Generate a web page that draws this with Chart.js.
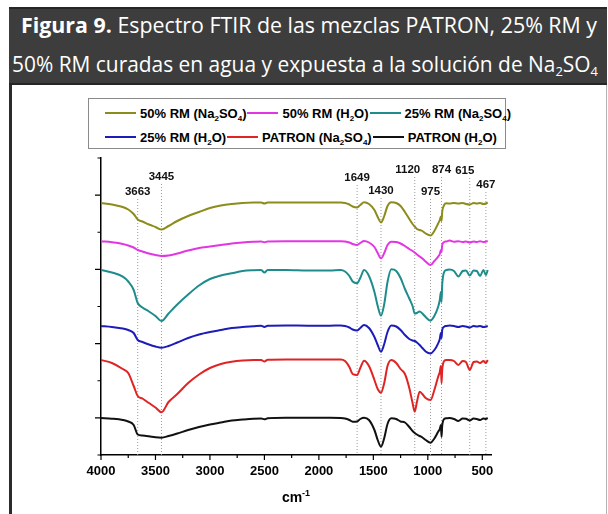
<!DOCTYPE html>
<html>
<head>
<meta charset="utf-8">
<script src="https://cdn.jsdelivr.net/npm/chart.js@4.4.1/dist/chart.umd.min.js"></script>
<style>
  body { margin: 0; width: 608px; height: 514px; overflow: hidden; position: relative; background: #fff; font-family: "Liberation Sans", Arial, sans-serif; }
  #frame { position: absolute; left: 9px; top: 7px; width: 594px; height: 520px; border-left: 3px solid #2b2b2b; border-right: 1px solid #b4b4b4; }
  #head { position: absolute; left: 9px; top: 7px; width: 598px; height: 78px; background: #3d3d3d; border-top: 2px solid #262626; border-bottom: 2px solid #262626; box-sizing: border-box; }
  .ln { position: absolute; white-space: nowrap; color: #fff; font-family: "Open Sans", sans-serif; font-size: 21px; line-height: 24px; transform-origin: 0 0; }
  .ln sub { font-size: 13px; vertical-align: -4px; line-height: 0; }
  #legend { position: absolute; left: 88px; top: 98px; width: 418px; height: 51px; border: 1px solid #8a8a8a; box-sizing: border-box; }
  .row { position: absolute; left: 16px; height: 16px; display: flex; align-items: center; white-space: nowrap; }
  .row .ln2 { display: inline-block; width: 31px; height: 2px; }
  .row .tx { font-weight: bold; font-size: 13px; padding: 0 1px 0 4px; }
  .row sub { font-size: 8px; vertical-align: -3px; line-height: 0; }
  #xtitle { position: absolute; left: 196px; width: 200px; top: 489px; text-align: center; font-weight: bold; font-size: 14px; }
  #xtitle sup { font-size: 9px; vertical-align: 6px; line-height: 0; }
  canvas { position: absolute; left: 0; top: 0; }
</style>
</head>
<body>
<div id="frame"></div>
<div id="head"></div>
<div class="ln" id="l1" style="left:21px;top:13px"><b>Figura 9.</b> Espectro FTIR de las mezclas PATRON, 25% RM y</div>
<div class="ln" id="l2" style="left:12px;top:52px">50% RM curadas en agua y expuesta a la solución de Na<sub>2</sub>SO<sub>4</sub></div>
<div id="legend"></div>
<canvas id="ftir" width="608" height="514"></canvas>
<div id="xtitle">cm<sup>-1</sup></div>
<script>
// wavenumber grid (cm-1)
const wn = [4000, 3900, 3800, 3750, 3700, 3663, 3620, 3560, 3500, 3445,
  3380, 3300, 3200, 3100, 3000, 2900, 2800, 2700, 2600, 2530,
  2500, 2470, 2300, 2100, 1900, 1800, 1760, 1720, 1690, 1649,
  1620, 1585, 1540, 1490, 1460, 1430, 1400, 1370, 1335, 1290,
  1250, 1210, 1170, 1140, 1120, 1100, 1075, 1050, 1020, 975,
  940, 905, 890, 880, 874, 868, 850, 830, 800, 760,
  720, 680, 650, 615, 580, 550, 520, 490, 467, 450];

// transmittance, stacked with offsets (a.u.)
const rm50Na = [252, 250.5, 248, 245.5, 241, 235.5, 233.5, 230.5, 228, 225.5,
  229, 234, 239, 243, 247, 249.5, 251, 252, 252.5, 252.5,
  251.5, 252.5, 252.5, 252.5, 252.5, 252.5, 252, 250.5, 248.5, 247.5,
  250, 252.7, 251, 245, 238, 232.5, 239, 249, 252.7, 252,
  249, 243, 236, 231, 228.5, 226, 225, 224, 221.5, 219.5,
  224, 231.5, 235, 238.5, 234, 243, 250, 251.7, 251.5, 252,
  251.5, 252, 251, 250.5, 252, 251.5, 252, 251, 251.5, 252.5];
const rm50H2O = [213.7, 212.7, 211, 209.5, 207.5, 205, 203.5, 201.5, 200, 199,
  199.5, 201.5, 204.5, 207, 208.5, 210, 211.5, 212.5, 213.2, 213.5,
  212.7, 213.5, 213.7, 213.7, 213.7, 213.7, 213.5, 212.5, 211, 210,
  212, 214, 212.5, 208, 202, 196.7, 202, 210, 213.3, 213,
  211.5, 209, 206, 204, 202.5, 200.5, 198.5, 196.5, 193.5, 190,
  194, 198.3, 201, 205, 203, 210, 213, 213.5, 214.5, 213.3,
  213.7, 213, 213.5, 212.5, 213.5, 213, 213.7, 213, 213.5, 214];
const rm25Na = [185, 182.5, 178.3, 173.5, 165, 152, 147.5, 143.5, 139, 134,
  141.5, 150.5, 160.5, 169.5, 176, 179.5, 181.7, 184, 184.8, 185,
  182.5, 185, 185, 184.5, 184.5, 185, 183.5, 179, 173.5, 171.7,
  177, 185, 179, 163, 149, 139.3, 151, 173, 185.7, 184,
  177, 166, 156.5, 149, 141.5, 142, 143.5, 141.5, 138, 134.3,
  139, 148.3, 155, 163, 153, 170, 183, 185, 185.5, 184,
  178.5, 184, 184.5, 179.5, 184.5, 184, 179, 185, 180, 185];
const rm25H2O = [129, 128, 126.5, 125, 122, 115, 113, 110.5, 108.5, 107.3,
  109, 112.5, 117, 120.5, 123, 125, 127, 128, 128.7, 129.2,
  128, 129.2, 129.5, 129.3, 129.3, 129.5, 129, 127.5, 125.5, 124.5,
  127, 130, 127, 118, 110, 103.3, 111, 123, 129.5, 128.5,
  125, 120, 116, 114.5, 114, 112.5, 110, 107, 103.5, 101.5,
  105, 111.7, 116, 122, 117, 125, 128.3, 129, 129.5, 129,
  128, 129, 128.5, 127.5, 129, 128.5, 129, 128, 128.5, 129];
const patronNa = [95, 92, 86, 82, 69, 59, 56.5, 52, 47.5, 42.7,
  53, 61, 72, 80.5, 87, 91, 93.3, 94.5, 95, 95,
  93.5, 95.2, 95.5, 95.5, 95.5, 95.5, 94, 88, 81, 80,
  87, 94.3, 89, 75, 66, 62.3, 72, 89, 95, 92,
  86, 81, 67, 52, 43.3, 53, 63.3, 61, 57, 55,
  65, 78.3, 83, 89, 71.7, 85, 94, 95, 95, 94,
  90, 94, 93, 85, 93, 93.5, 92, 94, 92, 95];
const patronH2O = [37, 36.3, 35, 33.5, 30, 20.5, 19.5, 18.7, 17.7, 17.3,
  19, 21.5, 25, 28, 30.5, 32.5, 34.5, 35.5, 36.3, 36.5,
  35.7, 36.7, 37.2, 37.2, 37.2, 37, 36.5, 35, 33.3, 33.5,
  36, 37.3, 35, 25, 15, 8.3, 17, 31, 36.7, 36,
  33.5, 32.5, 28, 24, 22, 20.5, 19, 17.5, 15, 12.3,
  16.5, 23.3, 26, 30, 18.3, 29, 36, 36.7, 37, 36,
  34, 36.5, 36.3, 34.5, 36.5, 36, 35, 36.5, 36, 37];

const seriesLabels = ['50% RM (Na2SO4)', '50% RM (H2O)', '25% RM (Na2SO4)',
  '25% RM (H2O)', 'PATRON (Na2SO4)', 'PATRON (H2O)'];
const seriesColors = ['#8c8c1c', '#e236e2', '#1f8c8c', '#1c1cb8', '#e02424', '#111111'];
const xTickLabels = [4000, 3500, 3000, 2500, 2000, 1500, 1000, 500];
const peaks = [3663, 3445, 1649, 1430, 1120, 975, 874, 615, 467];

const yMax = 297;

const series = [rm50Na, rm50H2O, rm25Na, rm25H2O, patronNa, patronH2O];
const datasets = series.map((s, k) => ({
  label: seriesLabels[k],
  data: wn.map((x, i) => ({ x: x, y: s[i] })),
  borderColor: seriesColors[k],
  borderWidth: 2,
  pointRadius: 0,
  fill: false,
  cubicInterpolationMode: 'monotone'
}));

// small ticks, long at labelled values
const axisTicks = {
  id: 'axisTicks',
  afterDraw(chart) {
    const { ctx } = chart;
    const x = chart.scales.x, y = chart.scales.y;
    ctx.save();
    ctx.strokeStyle = '#000';
    ctx.lineWidth = 1.2;
    ctx.beginPath();
    for (let v = 4000; v >= 500; v -= 250) {
      const px = x.getPixelForValue(v);
      const len = v % 500 === 0 ? 5 : 3;
      ctx.moveTo(px, y.bottom);
      ctx.lineTo(px, y.bottom + len);
    }
    for (let i = 0; i <= 8; i++) {
      const py = y.getPixelForValue(i * yMax / 8);
      const len = i % 2 ? 6 : 3.5;
      ctx.moveTo(x.left, py);
      ctx.lineTo(x.left - len, py);
    }
    ctx.stroke();
    ctx.restore();
  }
};

// dotted peak markers + labels
const peakMarks = {
  id: 'peakMarks',
  beforeDatasetsDraw(chart) {
    const { ctx, chartArea } = chart;
    const x = chart.scales.x;
    const lift = { 3663: 34, 3445: 19, 1649: 20, 1430: 33, 1120: 12, 975: 34, 874: 12, 615: 13, 467: 27 };
    const shift = { 1120: -7, 615: -5 };
    ctx.save();
    ctx.font = 'bold 11.5px "Liberation Sans", Arial, sans-serif';
    ctx.textAlign = 'center';
    ctx.textBaseline = 'middle';
    peaks.forEach(p => {
      const px = x.getPixelForValue(p);
      const ty = chartArea.top + lift[p];
      ctx.strokeStyle = '#9a9a9a';
      ctx.lineWidth = 1;
      ctx.setLineDash([1, 2]);
      ctx.beginPath();
      ctx.moveTo(px, ty + 7);
      ctx.lineTo(px, chartArea.bottom);
      ctx.stroke();
      ctx.fillStyle = '#111';
      ctx.fillText(String(p), px + (shift[p] || 0), ty);
    });
    ctx.restore();
  }
};

const chart = new Chart(document.getElementById('ftir'), {
  type: 'line',
  data: { datasets: datasets },
  options: {
    responsive: false,
    animation: false,
    devicePixelRatio: 1,
    layout: { padding: { left: 0, top: 158, right: 117, bottom: 0 } },
    scales: {
      x: {
        type: 'linear',
        reverse: true,
        min: 420,
        max: 4000,
        afterBuildTicks: s => { s.ticks = xTickLabels.map(v => ({ value: v })); },
        afterFit: s => { s.height = 59; },
        ticks: {
          autoSkip: false,
          maxRotation: 0,
          padding: 9,
          color: '#000',
          callback: v => String(v),
          font: { family: '"Liberation Sans", Arial, sans-serif', size: 13, weight: 'bold' }
        },
        grid: { display: false, drawTicks: false },
        border: { color: '#000', width: 1.5 }
      },
      y: {
        min: 0,
        max: yMax,
        afterFit: s => { s.width = 101; },
        ticks: { display: false },
        grid: { display: false, drawTicks: false },
        border: { color: '#000', width: 1.5 }
      }
    },
    plugins: {
      legend: { display: false },
      tooltip: { enabled: false }
    }
  },
  plugins: [axisTicks, peakMarks]
});

// legend box in two rows, from the datasets
const legendBox = document.getElementById('legend');
[0, 1].forEach(r => {
  const row = document.createElement('div');
  row.className = 'row';
  row.style.top = (r === 0 ? 6 : 30) + 'px';
  chart.data.datasets.slice(r * 3, r * 3 + 3).forEach(ds => {
    const line = document.createElement('span');
    line.className = 'ln2';
    line.style.background = ds.borderColor;
    const tx = document.createElement('span');
    tx.className = 'tx';
    tx.innerHTML = ds.label.replace(/([A-Za-z])(\d)/g, '$1<sub>$2</sub>');
    row.appendChild(line);
    row.appendChild(tx);
  });
  legendBox.appendChild(row);
});

// fit caption lines to their width
[['l1', 576], ['l2', 586]].forEach(([id, w]) => {
  const el = document.getElementById(id);
  const k = w / el.getBoundingClientRect().width;
  el.style.transform = 'scaleX(' + k + ')';
});
</script>
</body>
</html>
